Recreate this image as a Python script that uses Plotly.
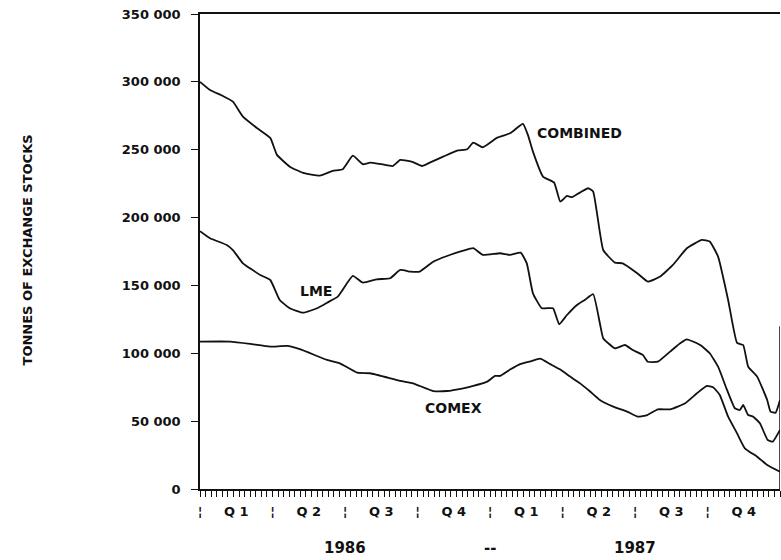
import plotly.graph_objects as go

# ---- data (x in weeks from 1 Jan 1986; 104 weeks = end 1987) ----
weeks_combined = [0, 1.8, 4.1, 5.9, 7.7, 10.2, 12.6, 13.8, 16.1, 18.5, 21.5, 23.8, 25.6, 27.4,
                  29.2, 30.5, 32.3, 34.6, 35.9, 38.2, 39.8, 41.2, 43.6, 46.1, 47.9, 49.0, 50.7,
                  53.3, 55.6, 57.9, 58.8, 59.7, 61.5, 63.5, 64.6, 65.8, 66.7, 68.1, 69.6, 70.5,
                  72.3, 74.4, 75.8, 78.4, 80.3, 82.5, 84.8, 87.3, 90.0, 91.4, 92.9, 94.7, 96.3,
                  97.4, 98.3, 99.9, 101.7, 102.3, 103.2, 104.0]
combined = [300000, 294000, 289600, 285400, 274400, 266000, 258700, 246200, 237500, 232900,
            230900, 234400, 235600, 245600, 239300, 240500, 239500, 238000, 242500, 240800,
            238000, 240500, 244900, 249300, 250300, 255200, 251800, 258900, 262100, 269000,
            260900, 248600, 230200, 225700, 211700, 215900, 215000, 218400, 221600, 219100,
            176100, 166800, 166300, 159000, 152800, 156500, 165100, 177400, 183500, 182300,
            171200, 139300, 107600, 106100, 90100, 82800, 65600, 57000, 56200, 65600]

weeks_lme = [0, 1.8, 4.8, 5.9, 7.7, 10.8, 12.6, 14.3, 16.1, 18.5, 21.0, 22.8, 24.7, 27.4,
             29.2, 31.7, 34.1, 35.9, 37.7, 39.4, 41.8, 44.3, 47.2, 49.0, 50.7, 53.8, 55.6,
             57.5, 58.6, 59.7, 61.3, 63.3, 64.4, 65.8, 67.6, 69.0, 70.5, 71.7, 72.3, 74.4,
             76.2, 77.6, 79.4, 80.3, 82.1, 84.3, 86.1, 87.3, 89.7, 91.4, 92.9, 94.5, 95.9,
             96.8, 97.4, 98.3, 99.2, 100.4, 101.8, 102.7, 104.0]
lme = [190000, 184800, 179800, 176100, 166300, 157700, 154000, 139300, 133200, 129900,
       133200, 137300, 141700, 157000, 152000, 154500, 155300, 161400, 160200, 160200,
       167500, 171700, 175600, 177400, 172500, 173700, 172500, 174200, 166300, 144200,
       133200, 133200, 121400, 128200, 135600, 139300, 143500, 122100, 111100, 103700,
       106100, 102400, 98800, 93800, 93800, 101200, 107400, 110300, 106100, 100000,
       90100, 73000, 59500, 58200, 61900, 54500, 53300, 48400, 36100, 34900, 43500]

weeks_comex = [0, 5.4, 9.0, 12.6, 15.6, 17.9, 22.8, 25.1, 28.2, 30.5, 35.9, 38.2, 41.8, 44.3,
               47.2, 49.0, 51.5, 52.9, 53.8, 55.6, 57.4, 59.2, 61.0, 62.8, 64.6, 66.3, 68.1,
               69.9, 71.7, 74.1, 76.6, 78.5, 80.2, 82.1, 84.3, 87.0, 89.1, 90.9, 92.0, 93.2,
               94.7, 96.3, 97.7, 99.9, 101.7, 104.0]
comex = [108600, 108600, 106900, 104900, 105400, 103000, 95100, 92600, 85700, 85300, 79600,
         77900, 72200, 72200, 74200, 75900, 79100, 83300, 83300, 88000, 92000, 94000, 96000,
         92000, 88000, 83000, 78000, 72000, 65600, 60700, 57000, 53300, 54500, 58700, 58700,
         63200, 70500, 75900, 75000, 69300, 53300, 41000, 30000, 23800, 17700, 12700]

y_ticks = [0, 50000, 100000, 150000, 200000, 250000, 300000, 350000]
x_tick_pos = [0, 6.5, 13, 19.5, 26, 32.5, 39, 45.5, 52, 58.5, 65, 71.5, 78, 84.5, 91, 97.5, 104]
x_tick_text = ["¦", "Q 1", "¦", "Q 2", "¦", "Q 3", "¦", "Q 4", "¦",
               "Q 1", "¦", "Q 2", "¦", "Q 3", "¦", "Q 4", "¦"]
years = ["1986", "1987"]
year_pos = [26, 78]

INK = "#111111"
FONT = "DejaVu Sans"

fig = go.Figure()
for wx, vals in [(weeks_combined, combined), (weeks_lme, lme), (weeks_comex, comex)]:
    fig.add_trace(go.Scatter(x=wx, y=vals, mode="lines",
                             line=dict(color=INK, width=1.8, shape="spline", smoothing=0.4),
                             hoverinfo="skip"))

fig.update_layout(
    width=781, height=560,
    margin=dict(l=200, r=1, t=14, b=71),
    plot_bgcolor="white", paper_bgcolor="white",
    showlegend=False,
    font=dict(family=FONT, color=INK),
)

fig.update_xaxes(
    range=[0, 104], showgrid=False, zeroline=False,
    showline=True, linecolor=INK, linewidth=1.5, mirror=True,
    tickmode="array", tickvals=x_tick_pos, ticktext=x_tick_text,
    ticks="", ticklen=0, ticklabelstandoff=10,
    tickfont=dict(family=FONT, size=13, weight="bold", color=INK),
    minor=dict(tick0=0, dtick=1, ticks="outside", ticklen=6, tickwidth=1,
               tickcolor=INK, showgrid=False),
)

fig.update_yaxes(
    range=[0, 350000], showgrid=False, zeroline=False,
    showline=True, linecolor=INK, linewidth=1.5,
    tickmode="array", tickvals=y_ticks,
    ticktext=[f"{v:,}".replace(",", " ") for v in y_ticks],
    ticks="outside", ticklen=7, tickwidth=1.2, tickcolor=INK, ticklabelstandoff=8,
    tickfont=dict(family=FONT, size=13, weight="bold", color=INK),
)

# partial right border seen in the reference
fig.add_shape(type="line", xref="x", yref="y", x0=104, x1=104, y0=0, y1=120000,
              line=dict(color=INK, width=1.5))

ann_font = dict(family=FONT, size=14, weight="bold", color=INK)
fig.add_annotation(x=68.0, y=262400, xref="x", yref="y", text="COMBINED",
                   showarrow=False, font=ann_font)
fig.add_annotation(x=20.8, y=145900, xref="x", yref="y", text="LME",
                   showarrow=False, font=ann_font)
fig.add_annotation(x=45.5, y=59700, xref="x", yref="y", text="COMEX",
                   showarrow=False, font=ann_font)

for yr, px in zip(years, year_pos):
    fig.add_annotation(x=px, y=-0.124, xref="x", yref="paper", text=yr, yanchor="middle",
                       showarrow=False, font=dict(family=FONT, size=15, weight="bold", color=INK))
fig.add_annotation(x=52, y=-0.124, xref="x", yref="paper", text="--", yanchor="middle",
                   showarrow=False, font=dict(family=FONT, size=15, weight="bold", color=INK))

fig.add_annotation(x=-0.314, y=0.503, xref="paper", yref="paper",
                   text="TONNES OF EXCHANGE STOCKS", textangle=-90, showarrow=False,
                   font=dict(family=FONT, size=13, weight="bold", color=INK))

fig.write_html("out.html")
